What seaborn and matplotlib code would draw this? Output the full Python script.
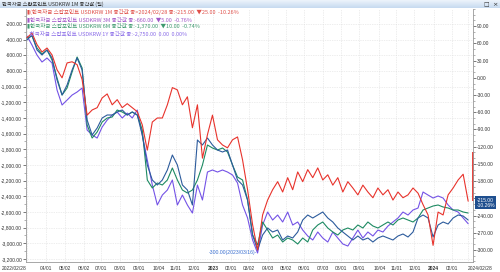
import matplotlib
matplotlib.use('Agg')
import matplotlib.pyplot as plt
import seaborn as sns
import numpy as np
import pandas as pd
from matplotlib import font_manager as fm
from matplotlib.ticker import FixedLocator, MultipleLocator, FuncFormatter
from matplotlib.colors import LinearSegmentedColormap

sns.set_theme(style='white')
plt.rcParams['font.family'] = ['Noto Sans CJK KR', 'DejaVu Sans']

avail = {f.name for f in fm.fontManager.ttflist}
NARROW = 'Liberation Sans Narrow' if 'Liberation Sans Narrow' in avail else 'Liberation Sans'
TICK_FS = 4.0 if NARROW == 'Liberation Sans Narrow' else 3.5

# ---------------- data ----------------
start_date = '2022-02-28'
end_date = '2024-02-28'

m1 = [70, 78, 58, 45, 52, 40, 14, 0, 26, 28, 23, -3, -65, -56, -52, -35, -28, -47, -38, -52,
      -45, -52, -59, -82, -126, -77, -70, -70, -47, -17, -21, -47, -33, -87, -47, -140, -99, -65, -108, -117,
      -122, -108, -103, -143, -195, -256, -300, -239, -213, -195, -181, -199, -174, -195, -164, -181, -160, -174, -157, -178,
      -169, -187, -174, -199, -181, -192, -204, -187, -199, -209, -192, -204, -195, -213, -199, -209, -204, -192, -201, -221,
      -239, -292, -234, -239, -204, -192, -178, -168, -215]
m3 = [60, 80, 20, 0, 20, -12, -100, -160, -120, -60, -12, -60, -260, -320, -292, -252, -240, -240, -228, -220,
      -240, -228, -240, -320, -440, -500, -520, -500, -460, -400, -440, -520, -540, -600, -340, -360, -332, -360, -380, -388,
      -380, -440, -500, -520, -580, -720, -780, -720, -692, -708, -700, -740, -724, -732, -708, -660, -640, -652, -640, -628,
      -652, -668, -692, -708, -724, -740, -724, -740, -732, -748, -732, -724, -732, -740, -724, -716, -728, -708, -652, -640,
      -652, -728, -680, -668, -676, -652, -640, -644, -660]
m6 = [-495, -485, -545, -575, -555, -605, -695, -780, -745, -665, -590, -645, -930, -995, -965, -915, -895, -890, -855, -865,
      -880, -865, -880, -955, -1205, -1245, -1220, -1230, -1205, -1145, -1205, -1255, -1270, -1255, -1205, -1130, -1030, -1045, -1055, -1045,
      -1065, -1130, -1190, -1205, -1305, -1480, -1530, -1415, -1455, -1495, -1480, -1515, -1495, -1505, -1525, -1495, -1515, -1455, -1430, -1415,
      -1445, -1465, -1480, -1455, -1445, -1455, -1430, -1445, -1415, -1435, -1445, -1430, -1415, -1430, -1405, -1395, -1405, -1415, -1395, -1355,
      -1345, -1335, -1330, -1340, -1345, -1355, -1355, -1365, -1370]
y1 = [-353, -468, -596, -685, -634, -698, -1043, -1234, -1171, -1107, -1068, -1017, -1554, -1617, -1656, -1515, -1426, -1362, -1324, -1400,
      -1337, -1400, -1298, -1617, -1937, -2256, -2511, -2384, -2320, -2192, -2511, -2384, -2511, -2614, -2256, -2447, -2090, -2064, -2090, -2064,
      -2090, -2128, -2230, -2511, -2677, -2958, -3124, -2767, -2601, -2703, -2639, -2728, -2601, -2767, -2728, -2831, -2907, -2958, -2856, -2933,
      -2984, -2856, -2933, -3009, -3035, -2933, -2831, -2933, -2856, -2907, -2831, -2856, -2780, -2728, -2677, -2601, -2639, -2575, -2550, -2345,
      -2384, -2422, -2396, -2422, -2511, -2575, -2601, -2677, -2750]

m1_bar = [-130, -215]

tick_dates = ['2022-02-28', '2022-04-01', '2022-05-02', '2022-06-02', '2022-07-01', '2022-08-01',
              '2022-09-01', '2022-10-04', '2022-11-01', '2022-12-01', '2023-01-02', '2023-02-01',
              '2023-03-02', '2023-04-03', '2023-05-02', '2023-06-01', '2023-07-03', '2023-08-01',
              '2023-09-01', '2023-10-04', '2023-11-01', '2023-12-01', '2024-01-02', '2024-02-01',
              '2024-02-28']
tick_labels = ['2022/02/28', '04/01', '05/02', '06/02', '07/01', '08/01', '09/01', '10/04', '11/01',
               '12/01', '2023', '02/01', '03/02', '04/03', '05/02', '06/01', '07/03', '08/01', '09/01',
               '10/04', '11/01', '12/01', '2024', '02/01', '2024/02/28']

legend_texts = [
    '▮(한국자금 스왑포인트 USDKRW 1M 종간값 종>2024/02/28 종:-215.00  ▼25.00  -10.26%',
    '▮한국자금 스왑포인트 USDKRW 3M 종간값 종:-660.00  ▼5.00  -0.76%',
    '▮한국자금 스왑포인트 USDKRW 6M 종간값 종:-1,370.00  ▼10.00  -0.74%',
    '  한국자금 스왑포인트 USDKRW 1Y 종간값 종:-2,750.00  0.00  0.00%',
]
title_text = '한국자금 스왑포인트 USDKRW 1M 종간값 (일)'

# ---------------- styling ----------------
C1M, C3M, C6M, C1Y = '#e8332c', '#2c5b9c', '#1d8a62', '#7453e6'
LEG_COLORS = ['#e0504a', '#a055c8', '#3e9a6e', '#8a6ce8']

dates = pd.date_range(start_date, end_date, periods=len(m1))
df = pd.DataFrame({'date': dates, '1M': m1, '3M': m3, '6M': m6, '1Y': y1})

W, H = 500, 272
fig = plt.figure(figsize=(W / 100, H / 100), dpi=100)
fig.patch.set_facecolor('white')

# title bar
TB = 8
tb = fig.add_axes([0, 1 - TB / H, 1, TB / H])
grad = np.linspace(0, 1, 50).reshape(-1, 1)
cm = LinearSegmentedColormap.from_list('tb', ['#eef4fb', '#c6daf0'])
tb.imshow(grad, aspect='auto', cmap=cm, extent=[0, 1, 0, 1])
tb.set_xlim(0, 1); tb.set_ylim(0, 1)
tb.axis('off')
fig.text(2 / W, 1 - 4.5 / H, title_text, fontsize=3.8, color='#333333', va='center', ha='left')
fig.text(486 / W, 1 - 4.5 / H, '□', fontsize=4.2, color='#333333', va='center', ha='center',
         family=['DejaVu Sans'])
fig.text(495 / W, 1 - 4.5 / H, '×', fontsize=4.6, color='#333333', va='center', ha='center',
         family=['DejaVu Sans'])

L, R, T, B = 26, 473, 9, 262
ax = fig.add_axes([L / W, 1 - B / H, (R - L) / W, (B - T) / H])
ax.set_facecolor('white')
ax6 = ax.twinx()
ax3 = ax.twinx()
axr = ax.twinx()

xl = (pd.Timestamp(start_date) - pd.Timedelta(days=1.6), pd.Timestamp(end_date) + pd.Timedelta(days=8))

sns.lineplot(data=df, x='date', y='1Y', ax=ax, color=C1Y, lw=0.8)
sns.lineplot(data=df, x='date', y='6M', ax=ax6, color=C6M, lw=0.8)
sns.lineplot(data=df, x='date', y='3M', ax=ax3, color=C3M, lw=0.8)
sns.lineplot(data=df, x='date', y='1M', ax=axr, color=C1M, lw=0.8)

for a in (ax, ax6, ax3, axr):
    a.set_xlim(*xl)
    a.set_xlabel('')
    a.set_ylabel('')

ax.set_ylim(-3239, -8)
axr.set_ylim(-321, 120)
ax3.set_ylim(-828, 184)
ax6.set_ylim(-1615, -350)

for a in (ax6, ax3):
    a.set_yticks([])
    for s in a.spines.values():
        s.set_visible(False)

for s in ['top', 'right']:
    ax.spines[s].set_visible(False)
for s in ['top', 'left', 'bottom']:
    axr.spines[s].set_visible(False)
ax.spines['left'].set_color('#999999'); ax.spines['left'].set_linewidth(0.6)
ax.spines['bottom'].set_color('#999999'); ax.spines['bottom'].set_linewidth(0.6)
axr.spines['right'].set_color('#999999'); axr.spines['right'].set_linewidth(0.6)

# y ticks
ax.yaxis.set_major_locator(FixedLocator(np.arange(-3200, -199, 200)))
ax.yaxis.set_minor_locator(MultipleLocator(100))
ax.yaxis.set_major_formatter(FuncFormatter(lambda v, p: f'{v:,.2f}'))
axr.yaxis.set_major_locator(FixedLocator(np.arange(-300, 91, 30)))
axr.yaxis.set_minor_locator(MultipleLocator(10))
axr.yaxis.set_major_formatter(FuncFormatter(lambda v, p: '' if abs(v - m1[-1]) < 12 else f'{v:.2f}'))
for a in (ax, axr):
    a.tick_params(axis='y', which='major', labelsize=TICK_FS, length=2, width=0.5, pad=0.8,
                  colors='#444444', labelcolor='#333333')
    a.tick_params(axis='y', which='minor', length=1.2, width=0.4, colors='#777777')
    for lab in a.get_yticklabels():
        lab.set_family(NARROW)

# x ticks
xt = pd.to_datetime(tick_dates)
ax.xaxis.set_major_locator(FixedLocator(matplotlib.dates.date2num(xt)))
ax.set_xticklabels(tick_labels)
ax.tick_params(axis='x', labelsize=TICK_FS, length=2, width=0.5, pad=1, colors='#444444', labelcolor='#333333')
for a in (axr, ax3, ax6):
    a.tick_params(axis='x', bottom=False, labelbottom=False)
for i, lab in enumerate(ax.get_xticklabels()):
    lab.set_family(NARROW)
    if tick_labels[i] in ('2023', '2024'):
        lab.set_fontweight('bold')
    if i == 0:
        lab.set_ha('right')
    elif i == len(tick_labels) - 1:
        lab.set_ha('left')

ax.grid(True, which='major', axis='both', color='#dcdcdc', linestyle=(0, (1, 1.5)), linewidth=0.5)

# min annotation for 1M
imin = int(np.argmin(m1))
axr.annotate(f'{m1[imin]:.2f}({dates[imin].strftime("%Y/%m/%d")})-', xy=(dates[imin], m1[imin]),
             xytext=(-0.5, -1.5), textcoords='offset points', ha='right', va='center',
             fontsize=3.7, color='#3a6fd0', family=[NARROW])

# right edge indicator
axr.plot([xl[1], xl[1]], m1_bar, color=C1M, lw=1.3, clip_on=False, solid_capstyle='butt')
axr.annotate(f'{m1[-1]:.2f}\n-10.26%', xy=(1, m1[-1]), xycoords=('axes fraction', 'data'),
             xytext=(2.5, -1), textcoords='offset points', ha='left', va='center',
             fontsize=3.6, color='white', family=[NARROW], linespacing=1.0,
             bbox=dict(boxstyle='square,pad=0.25', fc='#1f4f8f', ec='none'))

# legend texts
for i, (t, c) in enumerate(zip(legend_texts, LEG_COLORS)):
    fig.text(27 / W, 1 - (12 + 7.2 * i) / H, t, fontsize=4.0, color=c, va='center', ha='left')

fig.savefig('out.png', dpi=100, facecolor='white')
